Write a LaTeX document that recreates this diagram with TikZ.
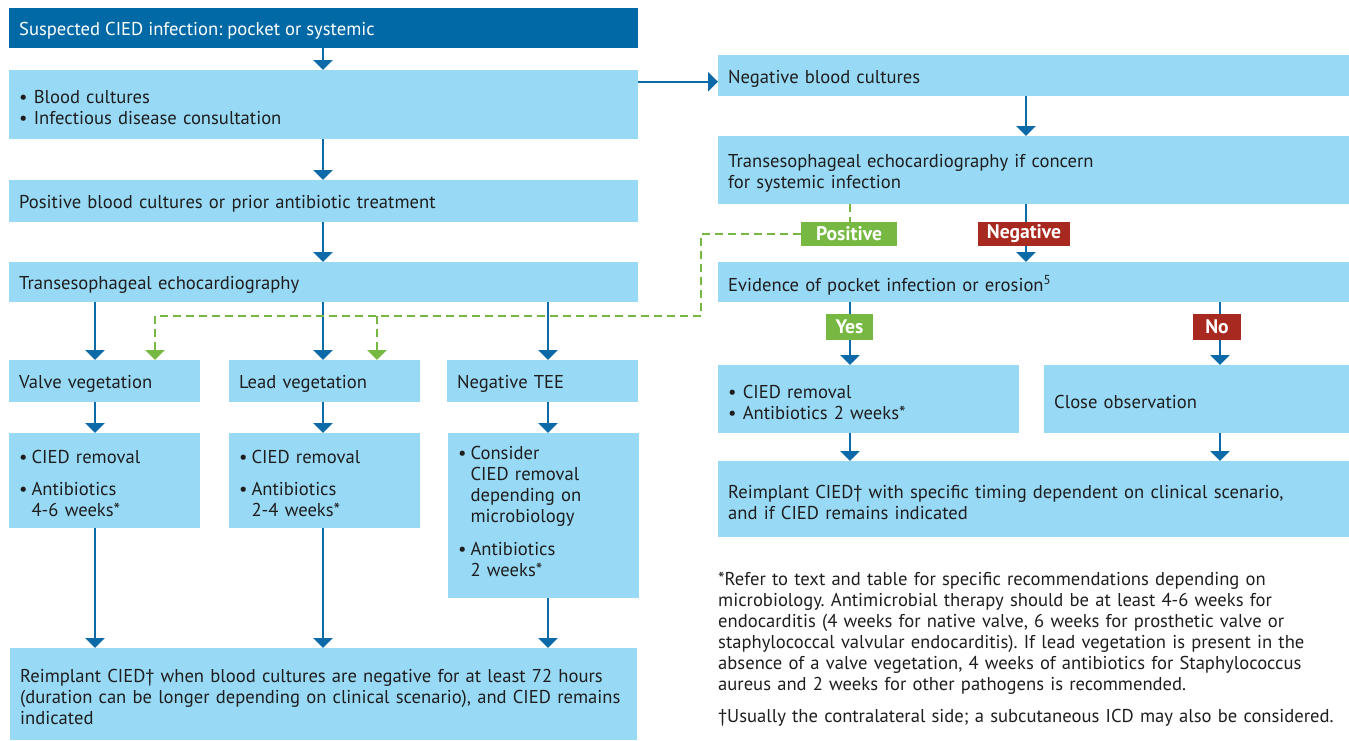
\documentclass[tikz,border=0pt]{standalone}
\usepackage{fontspec}
\setmainfont{PT Sans}
\usetikzlibrary{arrows.meta}
\definecolor{dblue}{HTML}{0069A6}
\definecolor{lblue}{HTML}{98D9F5}
\definecolor{ablue}{HTML}{0B6AA7}
\definecolor{lgreen}{HTML}{77B843}
\definecolor{dred}{HTML}{A7291F}
\definecolor{txtc}{HTML}{1E1E1E}
\newcommand\ffs{\fontsize{18.6}{21}\selectfont\frenchspacing}
\newcommand\tfs{\fontsize{19.6}{21}\selectfont\bfseries}
\tikzset{
  box/.style 2 args={fill=lblue, anchor=north west, inner sep=0pt, minimum width=#1pt, minimum height=#2pt},
  btxt/.style={anchor=west, inner sep=0pt, align=left, text=txtc, font=\ffs},
  tag/.style={inner sep=0pt, text=white, font=\tfs},
  arr/.style={draw=ablue, line width=2.4pt, -{Triangle[width=19pt,length=10pt]}},
  ln/.style={draw=ablue, line width=2.4pt},
  gd/.style={draw=lgreen, line width=2.4pt, dash pattern=on 8pt off 5pt},
  garr/.style={gd, -{Triangle[width=19pt,length=10pt,fill=lgreen]}},
  fn/.style={anchor=north west, inner sep=0pt, align=left, text=txtc, font=\ffs, text width=631pt},
}
% \tbox[text opts]{name}{x}{y}{w}{h}{text}
\newcommand\tbox[7][]{%
  \node[box={#5}{#6}] (#2) at (#3,#4) {};
  \pgfmathsetlengthmacro\tw{#5-20}%
  \node[btxt, text width=\tw, yshift=-3pt, #1] (#2-t) at ([xshift=10pt]#2.west) {#7};}
\begin{document}
\begin{tikzpicture}[x=1pt,y=-1pt]
\useasboundingbox (0,0) rectangle (1349,740);
% left column
\node[box={629}{40}, fill=dblue] (top) at (9,8) {};
\node[btxt, text=white, yshift=-3pt] (top-t) at ([xshift=10pt]top.west) {Suspected CIED infection: pocket or systemic};
\tbox{b2}{9}{70}{629}{69}{• Blood cultures\\• Infectious disease consultation}
\tbox{b3}{9}{180}{629}{42}{Positive blood cultures or prior antibiotic treatment}
\tbox{b4}{9}{262}{629}{40}{Transesophageal echocardiography}
\tbox{vv}{9}{360}{191}{42}{Valve vegetation}
\tbox{lv}{229}{360}{191}{42}{Lead vegetation}
\tbox{nt}{447}{360}{191}{42}{Negative TEE}
\tbox[yshift=-2pt]{vr}{9}{433}{191}{95}{\begin{tabular}{@{}l@{\hspace{4pt}}l@{}}•&CIED removal\\[11pt]•&Antibiotics\\&4-6 weeks*\end{tabular}}
\tbox[yshift=-2pt]{lr}{229}{433}{191}{95}{\begin{tabular}{@{}l@{\hspace{4pt}}l@{}}•&CIED removal\\[11pt]•&Antibiotics\\&2-4 weeks*\end{tabular}}
\tbox[yshift=-1pt]{nr}{448}{433}{191}{165}{\begin{tabular}{@{}l@{\hspace{4pt}}l@{}}•&Consider\\&CIED removal\\&depending on\\&microbiology\\[12pt]•&Antibiotics\\&2 weeks*\\[-9pt]&\end{tabular}}
\tbox{rb}{10}{648}{627}{92}{Reimplant CIED† when blood cultures are negative for at least 72 hours\\(duration can be longer depending on clinical scenario), and CIED remains\\indicated}
% right column
\tbox{negbc}{718}{55}{631}{41}{Negative blood cultures}
\tbox{teec}{718}{136}{631}{68}{Transesophageal echocardiography if concern\\for systemic infection}
\tbox{ev}{718}{262}{631}{40}{Evidence of pocket infection or erosion\textsuperscript{5}}
\tbox{cr}{718}{365}{301}{68}{• CIED removal\\• Antibiotics 2 weeks*}
\tbox{co}{1044}{365}{305}{68}{Close observation}
\tbox{rr}{718}{461}{631}{76}{Reimplant CIED† with specific timing dependent on clinical scenario,\\and if CIED remains indicated}
% tags
\node[tag, fill=lgreen, minimum width=96pt, minimum height=24pt] (pos) at (849,234) {Positive};
\node[tag, fill=dred, minimum width=92pt, minimum height=24pt] (neg) at (1024,234) {Negative};
\node[tag, fill=lgreen, minimum width=47pt, minimum height=26pt] (yes) at (849.5,327) {Yes};
\node[tag, fill=dred, minimum width=48pt, minimum height=26pt] (no) at (1217,327) {No};
% footnotes
\node[fn] (fn1) at (718,572) {*Refer to text and table for specific recommendations depending on\\microbiology. Antimicrobial therapy should be at least 4-6 weeks for\\endocarditis (4 weeks for native valve, 6 weeks for prosthetic valve or\\staphylococcal valvular endocarditis). If lead vegetation is present in the\\absence of a valve vegetation, 4 weeks of antibiotics for Staphylococcus\\aureus and 2 weeks for other pathogens is recommended.};
\node[fn] (fn2) at (718,709) {†Usually the contralateral side; a subcutaneous ICD may also be considered.};
% x positions
\coordinate (xm) at (323,0);
\coordinate (xv) at (95,0);
\coordinate (xn) at (548,0);
\coordinate (xgv) at (155,0);
\coordinate (xgl) at (377,0);
\coordinate (gk) at (701,316);
\coordinate (xr) at (850,0);
\coordinate (xc) at (1026,0);
\coordinate (xo) at (1220,0);
\coordinate (hy) at ([yshift=-6pt]negbc.west);
% connectors left
\draw[arr] (top.south -| xm) -- (b2.north -| xm);
\draw[arr] (b2.south -| xm) -- (b3.north -| xm);
\draw[arr] (b3.south -| xm) -- (b4.north -| xm);
\draw[arr] (b4.south -| xv) -- (vv.north -| xv);
\draw[arr] (b4.south -| xm) -- (lv.north -| xm);
\draw[arr] (b4.south -| xn) -- (nt.north -| xn);
\draw[arr] (vv.south -| xv) -- (vr.north -| xv);
\draw[arr] (lv.south -| xm) -- (lr.north -| xm);
\draw[arr] (nt.south -| xn) -- (nr.north -| xn);
\draw[arr] (vr.south -| xv) -- (rb.north -| xv);
\draw[arr] (lr.south -| xm) -- (rb.north -| xm);
\draw[arr] (nr.south -| xn) -- (rb.north -| xn);
\draw[arr] (hy -| b2.east) -- (hy);
% connectors right
\draw[arr] (negbc.south -| xc) -- (teec.north -| xc);
\draw[ln] (teec.south -| xc) -- (neg.north -| xc);
\draw[arr] (neg.south -| xc) -- (ev.north -| xc);
\draw[gd] (teec.south -| xr) -- (pos.north -| xr);
\draw[ln] (ev.south -| xr) -- (yes.north -| xr);
\draw[ln] (ev.south -| xo) -- (no.north -| xo);
\draw[arr] (yes.south -| xr) -- (cr.north -| xr);
\draw[arr] (no.south -| xo) -- (co.north -| xo);
\draw[arr] (cr.south -| xr) -- (rr.north -| xr);
\draw[arr] (co.south -| xo) -- (rr.north -| xo);
% green dashed
\draw[garr] (pos.west) -| (gk) -| (vv.north -| xgv);
\draw[garr] (gk -| xgl) -- (lv.north -| xgl);
\end{tikzpicture}
\end{document}
